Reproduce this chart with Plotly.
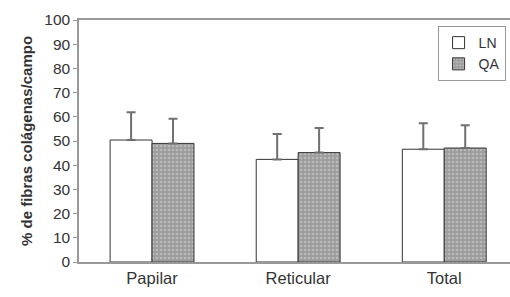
import plotly.graph_objects as go

categories = ["Papilar", "Reticular", "Total"]
ln_values = [50.4, 42.4, 46.6]
ln_err = [11.5, 10.5, 10.7]
qa_values = [49.0, 45.2, 47.1]
qa_err = [10.2, 10.2, 9.4]
y_ticks = [0, 10, 20, 30, 40, 50, 60, 70, 80, 90, 100]

FONT = "Liberation Sans, Arial, sans-serif"

fig = go.Figure()
fig.add_trace(go.Bar(
    x=categories, y=ln_values, name="LN",
    marker=dict(color="white", line=dict(color="#333333", width=1)),
    error_y=dict(type="data", array=ln_err, symmetric=False, arrayminus=[0, 0, 0],
                 color="#707070", thickness=2, width=4.5),
))
fig.add_trace(go.Bar(
    x=categories, y=qa_values, name="QA",
    marker=dict(color="#9c9c9c", line=dict(color="#333333", width=1),
                pattern=dict(shape=".", fgcolor="#d8d8d8", bgcolor="#9c9c9c", size=4, solidity=0.35)),
    error_y=dict(type="data", array=qa_err, symmetric=False, arrayminus=[0, 0, 0],
                 color="#707070", thickness=2, width=4.5),
))

fig.update_layout(
    width=510, height=297,
    margin=dict(l=79, r=0, t=20, b=35, autoexpand=False),
    plot_bgcolor="white", paper_bgcolor="white",
    barmode="group", bargap=0.426, bargroupgap=0,
    font=dict(family=FONT, size=15, color="#333333"),
    showlegend=True,
    legend=dict(x=0.832, y=0.975, xanchor="left", yanchor="top",
                bordercolor="#999999", borderwidth=1, bgcolor="white",
                font=dict(size=14, color="#333333"),
                itemwidth=30, tracegroupgap=0),
)
fig.update_xaxes(
    range=[-0.5, 2.45], showline=True, linecolor="#999999", linewidth=1.5, mirror=True,
    ticks="", showgrid=False, tickfont=dict(size=16.5, color="#333333"), automargin=False,
)
fig.update_yaxes(
    range=[0, 100], tickvals=y_ticks, showline=True, linecolor="#999999", linewidth=1.5,
    ticks="outside", ticklen=4, tickcolor="#999999", showgrid=False, zeroline=False,
    tickfont=dict(size=15.5, color="#333333"), automargin=False,
    title=dict(text="<b>% de fibras colágenas/campo</b>", font=dict(size=15, color="#333333"), standoff=8),
)

fig.write_html("out.html", config={"displayModeBar": False},
               post_script="document.body.style.margin='0';document.body.style.overflow='hidden';")
